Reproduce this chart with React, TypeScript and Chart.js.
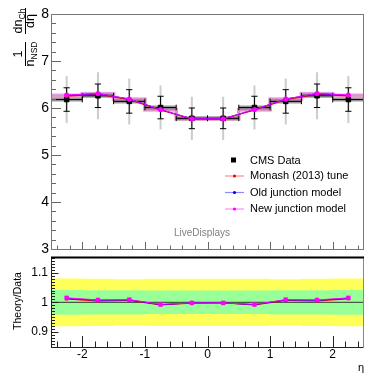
import React, { useEffect, useRef } from 'react';
import { Chart, registerables } from 'chart.js';

Chart.register(...registerables);

// ---------------- data ----------------
const BIN_EDGES = [-2.5, -2, -1.5, -1, -0.5, 0, 0.5, 1, 1.5, 2, 2.5];
const ETA = [-2.25, -1.75, -1.25, -0.75, -0.25, 0.25, 0.75, 1.25, 1.75, 2.25];

const CMS_DATA = [6.18, 6.26, 6.14, 6.01, 5.78, 5.78, 6.01, 6.14, 6.26, 6.18];
const CMS_ERR_STAT = [0.25, 0.25, 0.25, 0.24, 0.22, 0.22, 0.24, 0.25, 0.25, 0.25];
const CMS_ERR_TOTAL = [0.5, 0.5, 0.49, 0.47, 0.46, 0.46, 0.47, 0.49, 0.5, 0.5];

const MONASH = [6.25, 6.29, 6.175, 5.955, 5.765, 5.765, 5.955, 6.175, 6.29, 6.255];
const OLD_JUNCTION = [6.265, 6.305, 6.19, 5.965, 5.77, 5.77, 5.965, 6.19, 6.305, 6.265];
const NEW_JUNCTION = [6.275, 6.31, 6.19, 5.97, 5.77, 5.77, 5.97, 6.19, 6.31, 6.275];

const RATIO_MONASH = [1.011, 1.004, 1.006, 0.991, 0.997, 0.998, 0.991, 1.006, 1.004, 1.012];
const RATIO_OLD = [1.013, 1.007, 1.008, 0.992, 0.998, 0.998, 0.992, 1.008, 1.007, 1.013];
const RATIO_NEW = [1.015, 1.008, 1.009, 0.993, 0.998, 0.998, 0.993, 1.009, 1.008, 1.015];

const BAND_GREEN = [0.042, 0.041, 0.041, 0.04, 0.04, 0.04, 0.04, 0.041, 0.041, 0.042];
const BAND_YELLOW = [0.081, 0.08, 0.078, 0.08, 0.08, 0.08, 0.08, 0.078, 0.08, 0.081];

const X_MIN = -2.5;
const X_MAX = 2.5;
const X_TICKS = [-2, -1, 0, 1, 2];
const X_LABELS = ['-2', '-1', '0', '1', '2'];
const TOP_Y_MIN = 3;
const TOP_Y_MAX = 8;
const TOP_Y_TICKS = [3, 4, 5, 6, 7, 8];
const TOP_Y_LABELS = ['3', '4', '5', '6', '7', '8'];
const BOT_Y_MIN = 0.8485;
const BOT_Y_MAX = 1.1536;
const BOT_Y_TICKS = [0.9, 1, 1.1];
const BOT_Y_LABELS = ['0.9', '1', '1.1'];
const RATIO_REF = 1;

const LEGEND_LABELS = ['CMS Data', 'Monash (2013) tune', 'Old junction model', 'New junction model'];
const WATERMARK = 'LiveDisplays';
const BOT_Y_TITLE = 'Theory/Data';
const X_TITLE = 'η';

// ---------------- style ----------------
const FONT = "'Liberation Sans', Arial, Helvetica, sans-serif";
const RED = '#ff0000';
const BLUE = '#0000ff';
const MAGENTA = '#ff00ff';
const CAP_HW = 0.05;
const EDGE_TICK_H = 0.06;
const BOT_TOP = 240; // bottom canvas offset on page

Chart.defaults.font.family = FONT;

type P = { x: number; y: number | null };

function stepPoints(vals: number[]): P[] {
  const pts: P[] = [];
  vals.forEach((v, i) => {
    pts.push({ x: BIN_EDGES[i], y: v }, { x: BIN_EDGES[i + 1], y: v });
  });
  return pts;
}
function binSegments(vals: number[]): P[] {
  const pts: P[] = [];
  vals.forEach((v, i) => {
    pts.push({ x: BIN_EDGES[i], y: v }, { x: BIN_EDGES[i + 1], y: v }, { x: BIN_EDGES[i + 1], y: null });
  });
  return pts;
}
function vErr(vals: number[], errs: number[]): P[] {
  const pts: P[] = [];
  vals.forEach((v, i) => {
    pts.push({ x: ETA[i], y: v - errs[i] }, { x: ETA[i], y: v + errs[i] }, { x: ETA[i], y: null });
  });
  return pts;
}
function caps(vals: number[], errs: number[]): P[] {
  const pts: P[] = [];
  vals.forEach((v, i) => {
    for (const s of [1, -1]) {
      const y = v + s * errs[i];
      pts.push({ x: ETA[i] - CAP_HW, y }, { x: ETA[i] + CAP_HW, y }, { x: ETA[i], y: null });
    }
  });
  return pts;
}
function edgeTicks(vals: number[]): P[] {
  const pts: P[] = [];
  vals.forEach((v, i) => {
    for (const e of [BIN_EDGES[i], BIN_EDGES[i + 1]]) {
      pts.push({ x: e, y: v - EDGE_TICK_H }, { x: e, y: v + EDGE_TICK_H }, { x: e, y: null });
    }
  });
  return pts;
}
function centers(vals: number[]): P[] {
  return ETA.map((x, i) => ({ x, y: vals[i] }));
}

function lineDs(data: P[], color: string, width: number, order: number, extra: any = {}) {
  return {
    type: 'line',
    data,
    borderColor: color,
    backgroundColor: color,
    borderWidth: width,
    pointRadius: 0,
    pointHoverRadius: 0,
    fill: false,
    tension: 0,
    spanGaps: false,
    borderCapStyle: 'butt',
    order,
    ...extra,
  };
}

function drawTicks(chart: any, cfg: any) {
  const { ctx, chartArea: a, scales } = chart;
  const xs = scales.x;
  const ys = scales.y;
  ctx.save();
  ctx.strokeStyle = cfg.color;
  ctx.lineWidth = 1;
  ctx.beginPath();
  const eps = 1e-7;
  let start = Math.ceil((xs.min - eps) / cfg.xMinor);
  for (let k = start; k * cfg.xMinor <= xs.max + eps; k++) {
    const v = k * cfg.xMinor;
    const major = Math.abs(v / cfg.xMajor - Math.round(v / cfg.xMajor)) < 1e-4;
    const px = Math.round(xs.getPixelForValue(v)) + 0.5;
    ctx.moveTo(px, a.bottom);
    ctx.lineTo(px, a.bottom - (major ? cfg.xMajorLen : cfg.xMinorLen));
  }
  start = Math.ceil((ys.min - eps) / cfg.yMinor);
  for (let k = start; k * cfg.yMinor <= ys.max + eps; k++) {
    const v = k * cfg.yMinor;
    const major = Math.abs(v / cfg.yMajor - Math.round(v / cfg.yMajor)) < 1e-4;
    const py = Math.round(ys.getPixelForValue(v)) + 0.5;
    ctx.moveTo(a.left, py);
    ctx.lineTo(a.left + (major ? cfg.yMajorLen : cfg.yMinorLen), py);
  }
  ctx.stroke();
  ctx.restore();
}

function drawRun(ctx: CanvasRenderingContext2D, parts: { t: string; sub?: boolean }[], cx: number, base: number, size: number, subSize: number) {
  const widths = parts.map((p) => {
    ctx.font = `${p.sub ? subSize : size}px ${FONT}`;
    return ctx.measureText(p.t).width;
  });
  const total = widths.reduce((a, b) => a + b, 0);
  let x = cx - total / 2;
  parts.forEach((p, i) => {
    ctx.font = `${p.sub ? subSize : size}px ${FONT}`;
    ctx.fillText(p.t, x, base + (p.sub ? 2.5 : 0));
    x += widths[i];
  });
}

function drawFraction(ctx: CanvasRenderingContext2D, u0: number, len: number, num: any[], den: any[]) {
  ctx.beginPath();
  ctx.moveTo(u0, 0);
  ctx.lineTo(u0 + len, 0);
  ctx.stroke();
  drawRun(ctx, num, u0 + len / 2, -3.5, 12.5, 8.5);
  drawRun(ctx, den, u0 + len / 2, 8.5, 12.5, 8.5);
}

const topPlugin = {
  id: 'topDecor',
  afterDraw(chart: any) {
    const { ctx, chartArea: a } = chart;
    drawTicks(chart, { color: '#666', xMinor: 0.2, xMajor: 1, xMajorLen: 7, xMinorLen: 3.5, yMinor: 0.2, yMajor: 1, yMajorLen: 10, yMinorLen: 5 });
    ctx.save();
    ctx.strokeStyle = '#777';
    ctx.lineWidth = 1;
    ctx.strokeRect(Math.round(a.left) + 0.5, Math.round(a.top) + 0.5, Math.round(a.right - a.left) - 1, Math.round(a.bottom - a.top));
    ctx.restore();

    // y title (rotated fractions)
    ctx.save();
    ctx.fillStyle = '#000';
    ctx.strokeStyle = '#000';
    ctx.lineWidth = 1;
    ctx.textAlign = 'left';
    ctx.textBaseline = 'alphabetic';
    ctx.translate(25.5, 67);
    ctx.rotate(-Math.PI / 2);
    drawFraction(ctx, 1, 24, [{ t: '1' }], [{ t: 'n' }, { t: 'NSD', sub: true }]);
    drawFraction(ctx, 33, 26, [{ t: 'dn' }, { t: 'Ch', sub: true }], [{ t: 'dη' }]);
    ctx.restore();

    // legend
    ctx.save();
    ctx.font = `11px ${FONT}`;
    ctx.textBaseline = 'middle';
    ctx.textAlign = 'left';
    const rows = [160, 175.5, 192, 208.5];
    const cols = [null, RED, BLUE, MAGENTA];
    const light = [null, 'rgba(255,0,0,0.45)', 'rgba(0,0,255,0.45)', 'rgba(255,0,255,0.45)'];
    rows.forEach((y, i) => {
      if (i === 0) {
        ctx.fillStyle = '#000';
        ctx.fillRect(231, y - 2.5, 5, 5);
      } else {
        ctx.strokeStyle = light[i] as string;
        ctx.lineWidth = 1.2;
        ctx.beginPath();
        ctx.moveTo(225, y + 0.5);
        ctx.lineTo(244, y + 0.5);
        ctx.stroke();
        ctx.fillStyle = cols[i] as string;
        ctx.beginPath();
        ctx.arc(234.5, y + 0.5, 1.6, 0, Math.PI * 2);
        ctx.fill();
      }
      ctx.fillStyle = '#000';
      ctx.fillText(LEGEND_LABELS[i], 250, y + 0.5);
    });
    ctx.fillStyle = '#808080';
    ctx.font = `10px ${FONT}`;
    ctx.textAlign = 'center';
    ctx.fillText(WATERMARK, 202, 233.5);
    ctx.restore();
  },
};

const botPlugin = {
  id: 'botDecor',
  afterDraw(chart: any) {
    const { ctx, chartArea: a } = chart;
    drawTicks(chart, { color: '#222', xMinor: 0.2, xMajor: 1, xMajorLen: 11, xMinorLen: 5.5, yMinor: 0.01, yMajor: 0.1, yMajorLen: 7.5, yMinorLen: 4 });
    ctx.save();
    ctx.strokeStyle = '#222';
    ctx.lineWidth = 1;
    ctx.beginPath();
    const l = Math.round(a.left) + 0.5;
    const b = Math.round(a.bottom) + 0.5;
    const r = Math.round(a.right) - 0.5;
    ctx.moveTo(l, a.top);
    ctx.lineTo(l, b);
    ctx.lineTo(r, b);
    ctx.stroke();
    ctx.strokeStyle = '#888';
    ctx.beginPath();
    ctx.moveTo(r, a.top);
    ctx.lineTo(r, b);
    ctx.stroke();
    ctx.strokeStyle = '#000';
    ctx.lineWidth = 2;
    ctx.beginPath();
    ctx.moveTo(a.left, Math.round(a.top) + 0.5);
    ctx.lineTo(a.right, Math.round(a.top) + 0.5);
    ctx.stroke();

    ctx.fillStyle = '#000';
    ctx.font = `10.5px ${FONT}`;
    ctx.textAlign = 'center';
    ctx.textBaseline = 'alphabetic';
    ctx.save();
    ctx.translate(21, 301 - BOT_TOP);
    ctx.rotate(-Math.PI / 2);
    ctx.fillText(BOT_Y_TITLE, 0, 0);
    ctx.restore();
    ctx.font = `11px ${FONT}`;
    ctx.textAlign = 'right';
    ctx.fillText(X_TITLE, 364, 371 - BOT_TOP);
    ctx.restore();
  },
};

function baseOptions() {
  return {
    responsive: false,
    maintainAspectRatio: false,
    animation: false,
    devicePixelRatio: 1,
    events: [],
    plugins: { legend: { display: false }, tooltip: { enabled: false } },
  };
}

function topConfig(): any {
  const datasets: any[] = [
    lineDs(vErr(CMS_DATA, CMS_ERR_TOTAL), '#cccccc', 2, 10),
    lineDs(stepPoints(MONASH), 'rgba(255,60,60,0.25)', 3.5, 9),
    lineDs(stepPoints(OLD_JUNCTION), 'rgba(60,60,255,0.18)', 3.5, 9),
    lineDs(stepPoints(NEW_JUNCTION), 'rgba(255,60,255,0.28)', 3.5, 9),
    lineDs(binSegments(CMS_DATA), 'rgba(110,110,110,0.7)', 4, 8),
    lineDs(binSegments(CMS_DATA), '#000', 1, 7),
    lineDs(edgeTicks(CMS_DATA), '#000', 1, 7),
    lineDs(vErr(CMS_DATA, CMS_ERR_STAT), '#000', 1, 7),
    lineDs(caps(CMS_DATA, CMS_ERR_STAT), '#000', 1, 7),
    lineDs(centers(CMS_DATA), '#000', 0, 6, { showLine: false, pointRadius: 3.2, pointStyle: 'rect', pointBorderWidth: 1, pointBorderColor: '#000', pointBackgroundColor: '#000' }),
    lineDs(centers(MONASH), RED, 1, 3, { pointRadius: 2, pointBackgroundColor: RED, pointBorderColor: RED, pointBorderWidth: 0 }),
    lineDs(centers(OLD_JUNCTION), BLUE, 1, 2, { pointRadius: 2, pointBackgroundColor: BLUE, pointBorderColor: BLUE, pointBorderWidth: 0 }),
    lineDs(centers(NEW_JUNCTION), MAGENTA, 1, 1, { pointRadius: 2.5, pointBackgroundColor: MAGENTA, pointBorderColor: MAGENTA, pointBorderWidth: 0 }),
  ];
  return {
    type: 'line',
    data: { datasets },
    options: {
      ...baseOptions(),
      layout: { padding: { left: 0, right: 10, top: 14, bottom: 13 } },
      scales: {
        x: { type: 'linear', min: X_MIN, max: X_MAX, display: false },
        y: {
          type: 'linear',
          min: TOP_Y_MIN,
          max: TOP_Y_MAX,
          grid: { display: false, drawTicks: false },
          border: { display: false },
          afterFit: (s: any) => { s.width = 51; },
          afterBuildTicks: (s: any) => { s.ticks = TOP_Y_TICKS.map((value) => ({ value })); },
          ticks: {
            padding: 2,
            color: '#000',
            font: { size: 14, family: FONT },
            callback: (v: number) => TOP_Y_LABELS[TOP_Y_TICKS.indexOf(v)] ?? '',
          },
        },
      },
    },
    plugins: [topPlugin],
  };
}

function botConfig(): any {
  const bandPts = (vals: number[], sign: number) => stepPoints(vals.map((e) => RATIO_REF + sign * e));
  const datasets: any[] = [
    lineDs(bandPts(BAND_YELLOW, 1), 'rgba(0,0,0,0)', 0, 10),
    lineDs(bandPts(BAND_YELLOW, -1), 'rgba(0,0,0,0)', 0, 10, { fill: '-1', backgroundColor: '#ffff5a' }),
    lineDs(bandPts(BAND_GREEN, 1), 'rgba(0,0,0,0)', 0, 9),
    lineDs(bandPts(BAND_GREEN, -1), 'rgba(0,0,0,0)', 0, 9, { fill: '-1', backgroundColor: '#99ff99' }),
    lineDs([{ x: X_MIN, y: RATIO_REF }, { x: X_MAX, y: RATIO_REF }], '#333', 1, 8),
    lineDs(centers(RATIO_MONASH), RED, 1, 3, { pointRadius: 2, pointStyle: 'rect', pointBackgroundColor: RED, pointBorderColor: RED, pointBorderWidth: 0 }),
    lineDs(centers(RATIO_OLD), BLUE, 1, 2, { pointRadius: 2, pointStyle: 'rect', pointBackgroundColor: BLUE, pointBorderColor: BLUE, pointBorderWidth: 0 }),
    lineDs(centers(RATIO_NEW), MAGENTA, 1, 1, { pointRadius: 2.8, pointStyle: 'rect', pointBackgroundColor: MAGENTA, pointBorderColor: MAGENTA, pointBorderWidth: 0.5 }),
  ];
  return {
    type: 'line',
    data: { datasets },
    options: {
      ...baseOptions(),
      layout: { padding: { left: 0, right: 10, top: 257 - BOT_TOP, bottom: 0 } },
      scales: {
        x: {
          type: 'linear',
          min: X_MIN,
          max: X_MAX,
          grid: { display: false, drawTicks: false },
          border: { display: false },
          afterFit: (s: any) => { s.height = 382 - 347; },
          afterBuildTicks: (s: any) => { s.ticks = X_TICKS.map((value) => ({ value })); },
          ticks: {
            padding: 0,
            maxRotation: 0,
            autoSkip: false,
            color: '#000',
            font: { size: 12, family: FONT },
            callback: (v: number) => X_LABELS[X_TICKS.indexOf(v)] ?? '',
          },
        },
        y: {
          type: 'linear',
          min: BOT_Y_MIN,
          max: BOT_Y_MAX,
          grid: { display: false, drawTicks: false },
          border: { display: false },
          afterFit: (s: any) => { s.width = 51; },
          afterBuildTicks: (s: any) => { s.ticks = BOT_Y_TICKS.map((value) => ({ value })); },
          ticks: {
            padding: 3,
            color: '#000',
            font: { size: 12, family: FONT },
            callback: (v: number) => {
              const i = BOT_Y_TICKS.findIndex((t) => Math.abs(t - v) < 1e-9);
              return i >= 0 ? BOT_Y_LABELS[i] : '';
            },
          },
        },
      },
    },
    plugins: [botPlugin],
  };
}

export default function App() {
  const topRef = useRef<HTMLCanvasElement>(null);
  const botRef = useRef<HTMLCanvasElement>(null);
  useEffect(() => {
    const c1 = new Chart(topRef.current as HTMLCanvasElement, topConfig());
    const c2 = new Chart(botRef.current as HTMLCanvasElement, botConfig());
    return () => {
      c1.destroy();
      c2.destroy();
    };
  }, []);
  return (
    <div style={{ position: 'fixed', left: 0, top: 0, width: 374, height: 382, background: '#fff', overflow: 'hidden' }}>
      <canvas ref={topRef} width={374} height={262} style={{ position: 'absolute', left: 0, top: 0, width: 374, height: 262 }} />
      <canvas ref={botRef} width={374} height={382 - BOT_TOP} style={{ position: 'absolute', left: 0, top: BOT_TOP, width: 374, height: 382 - BOT_TOP }} />
    </div>
  );
}
